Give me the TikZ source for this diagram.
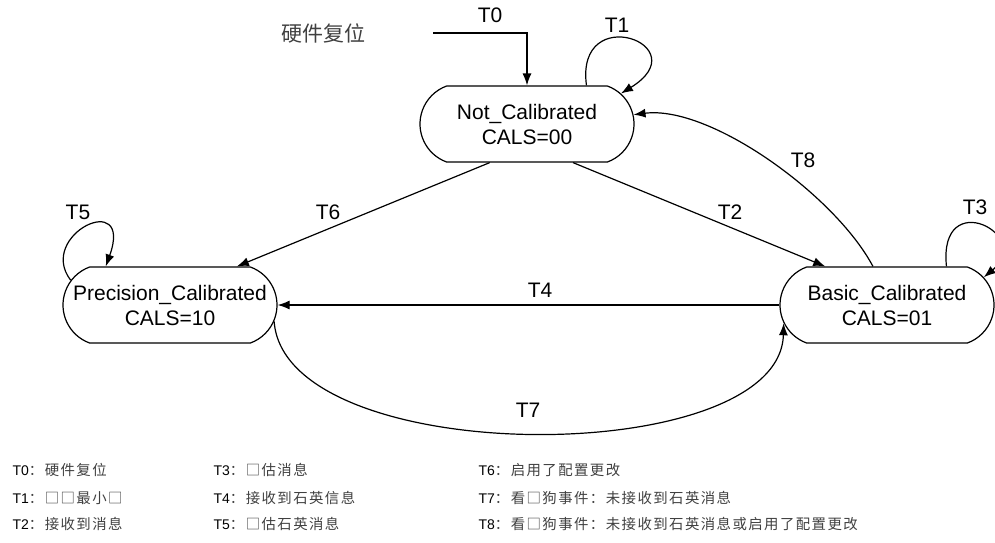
\documentclass[tikz,border=0pt]{standalone}
\usepackage{fontspec}
\setmainfont{Liberation Sans}
\newfontfamily\cjk{Noto Sans CJK SC}
\newfontfamily\cjkleg[LetterSpace=10]{Noto Sans CJK SC}
\usetikzlibrary{shapes.misc,arrows.meta,positioning}
\newcommand{\legcjk}[1]{{\cjkleg\fontsize{7.2}{9}\selectfont\color{black!75}#1}}

\tikzset{
	state/.style={draw,rounded rectangle,rounded rectangle arc length=140,minimum width=107pt,minimum height=38pt,inner sep=0pt,align=center,font=\fontsize{10.5}{12.5}\selectfont},
	trans/.style={-{Latex[length=6pt,width=4.5pt]}},
	lbl/.style={font=\fontsize{10.5}{12.5}\selectfont},
	legend/.style={anchor=west,inner sep=0pt,font=\fontsize{7}{8}\selectfont}
}

\begin{document}
\begin{tikzpicture}[x=0.5pt,y=-0.5pt,line width=0.6pt]
		\useasboundingbox (0,0) rectangle (995,542);
		% states
		\node[state] (notcal) at (527,124) {Not\_Calibrated\\CALS=00};
		\node[state] (preccal) at (170,305) {Precision\_Calibrated\\CALS=10};
		\node[state] (basiccal) at (887,305) {Basic\_Calibrated\\CALS=01};
		% reset
		\node[lbl,text=black!75] (resetlbl) at (323,33) {\cjk 硬件复位};
		\coordinate (reset) at (433,33);
		\draw[trans] (reset) -| (notcal.north);
		\node[lbl] (t0) at (490,15) {T0};
		% loops
		\draw[trans] (notcal.33) .. controls (575,0) and (700,45) .. (notcal.18);
		\node[lbl] (t1) at (617,25) {T1};
		\draw[trans] (preccal.166) .. controls (36,235) and (134,188) .. (preccal.149);
		\node[lbl] (t5) at (78,212) {T5};
		\draw[trans] (basiccal.33) .. controls (938,185) and (1035,235) .. (basiccal.16);
		\node[lbl] (t3) at (975,207) {T3};
		% transitions
		\draw[trans] (notcal.-40) -- (basiccal.148);
		\node[lbl] (t2) at (730,212) {T2};
		\draw[trans] (notcal.-134) -- (preccal.30);
		\node[lbl] (t6) at (328,212) {T6};
		\draw[trans] (basiccal.west) -- (preccal.east);
		\node[lbl] (t4) at (540,290) {T4};
		\draw[trans] (preccal.-9) .. controls (285,470) and (780,470) .. (basiccal.190);
		\node[lbl] (t7) at (528,410) {T7};
		\draw[trans] (basiccal.110) .. controls (835,195) and (710,105) .. (notcal.5);
		\node[lbl] (t8) at (803,160) {T8};
		% legend
		\node[legend] (l0) at (12,470) {T0\legcjk{：硬件复位}};
		\node[legend] (l1) at (12,498) {T1\legcjk{：□□最小□}};
		\node[legend] (l2) at (12,524) {T2\legcjk{：接收到消息}};
		\node[legend] (l3) at (213,470) {T3\legcjk{：□估消息}};
		\node[legend] (l4) at (213,498) {T4\legcjk{：接收到石英信息}};
		\node[legend] (l5) at (213,524) {T5\legcjk{：□估石英消息}};
		\node[legend] (l6) at (478,470) {T6\legcjk{：启用了配置更改}};
		\node[legend] (l7) at (478,498) {T7\legcjk{：看□狗事件：未接收到石英消息}};
		\node[legend] (l8) at (478,524) {T8\legcjk{：看□狗事件：未接收到石英消息或启用了配置更改}};
	\end{tikzpicture}
\end{document}
